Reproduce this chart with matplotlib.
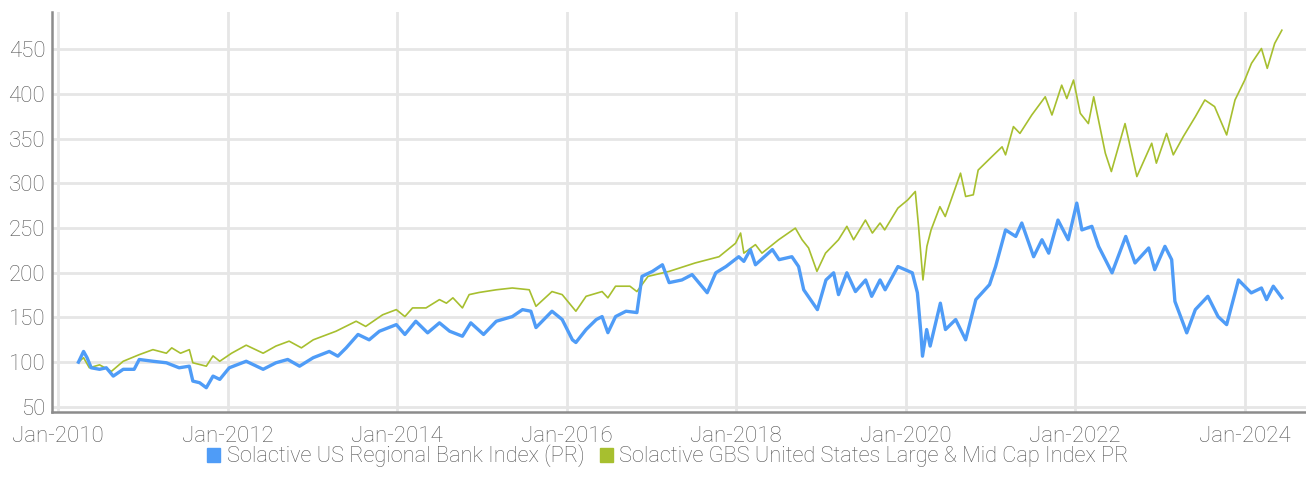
import pandas as pd
import matplotlib
matplotlib.use("Agg")
from matplotlib import pyplot as plt
from matplotlib.patches import Patch
import matplotlib.dates as mdates

plt.rcParams['font.family'] = ['Roboto', 'DejaVu Sans']
plt.rcParams['font.weight'] = 'light'

# Solactive US Regional Bank Index (PR)
bankDates = [
    "2010-03-29", "2010-04-20", "2010-05-05", "2010-05-23", "2010-06-28", "2010-07-27",
    "2010-08-26", "2010-10-08", "2010-11-24", "2010-12-16", "2011-02-13", "2011-04-12",
    "2011-06-06", "2011-07-20", "2011-08-04", "2011-09-02", "2011-10-01", "2011-10-30",
    "2011-11-28", "2012-01-08", "2012-03-21", "2012-06-02", "2012-07-27", "2012-09-16",
    "2012-11-06", "2013-01-04", "2013-03-14", "2013-04-20", "2013-05-26", "2013-07-16",
    "2013-09-02", "2013-10-16", "2013-12-28", "2014-02-03", "2014-03-22", "2014-05-12",
    "2014-07-02", "2014-08-15", "2014-10-09", "2014-11-14", "2015-01-08", "2015-03-04",
    "2015-05-12", "2015-06-25", "2015-07-31", "2015-08-22", "2015-10-30", "2015-12-13",
    "2016-01-26", "2016-02-10", "2016-03-25", "2016-05-08", "2016-06-02", "2016-06-27",
    "2016-07-30", "2016-09-13", "2016-10-30", "2016-11-21", "2017-01-05", "2017-02-17",
    "2017-03-18", "2017-05-12", "2017-06-25", "2017-08-29", "2017-10-05", "2017-11-18",
    "2018-01-12", "2018-02-03", "2018-03-03", "2018-03-25", "2018-06-06", "2018-07-05",
    "2018-08-29", "2018-09-27", "2018-10-19", "2018-12-17", "2019-01-23", "2019-02-25",
    "2019-03-18", "2019-04-23", "2019-05-30", "2019-07-13", "2019-08-08", "2019-09-13",
    "2019-10-05", "2019-11-29", "2020-01-30", "2020-02-21", "2020-03-07", "2020-03-14",
    "2020-04-01", "2020-04-16", "2020-05-30", "2020-06-21", "2020-08-04", "2020-09-16",
    "2020-10-30", "2020-12-28", "2021-01-23", "2021-03-07", "2021-04-20", "2021-05-16",
    "2021-07-06", "2021-08-11", "2021-09-09", "2021-10-19", "2021-12-02", "2022-01-08",
    "2022-01-30", "2022-03-14", "2022-04-12", "2022-05-11", "2022-06-09", "2022-08-07",
    "2022-09-16", "2022-11-14", "2022-12-10", "2023-01-23", "2023-02-21", "2023-03-07",
    "2023-04-27", "2023-06-03", "2023-07-27", "2023-09-09", "2023-10-16", "2023-12-06",
    "2024-01-30", "2024-03-14", "2024-04-05", "2024-05-04", "2024-06-10",
]
bankValues = [
    100, 112, 105, 93.7, 92, 93.7,
    84.4, 92, 92, 103, 101, 99.3,
    93.7, 95.5, 78.8, 77, 71.4, 84.4,
    80.7, 93.7, 101, 92, 99.3, 103,
    95.5, 105, 112, 106.7, 116, 131,
    125, 134.6, 142, 131, 145.8, 132.8,
    144, 134.6, 129, 144, 131, 145.8,
    151, 158.8, 157, 138.7, 157, 147.7,
    125, 122, 136.5, 147.7, 151, 133,
    151, 157, 155.5, 196, 201.6, 209,
    189, 192, 198, 177.7, 200, 207,
    218, 212.8, 226, 209, 226, 214.7,
    218, 207, 181, 158.8, 192, 200,
    175.6, 200, 179, 192, 173.7, 192,
    181, 207, 200, 177.7, 133, 106.7,
    136.5, 118, 166, 136.5, 147.7, 125,
    170, 186.8, 207, 248, 240.7, 255.7,
    218, 237, 222, 259, 237, 278,
    248, 252, 229.6, 214.7, 200, 240.7,
    211, 227.8, 203.5, 229.6, 214.7, 168,
    132.8, 158.8, 173.7, 151, 142, 192,
    177.5, 183, 170, 185, 172,
]

# Solactive GBS United States Large & Mid Cap Index PR
marketDates = [
    "2010-03-29", "2010-04-20", "2010-05-15", "2010-06-28", "2010-08-18", "2010-10-08",
    "2010-12-16", "2011-02-13", "2011-04-12", "2011-05-05", "2011-06-12", "2011-07-20",
    "2011-08-04", "2011-10-01", "2011-10-30", "2011-11-28", "2012-01-18", "2012-03-21",
    "2012-06-02", "2012-07-27", "2012-09-22", "2012-11-14", "2013-01-04", "2013-04-12",
    "2013-07-08", "2013-08-18", "2013-10-30", "2013-12-28", "2014-02-03", "2014-03-08",
    "2014-05-05", "2014-07-02", "2014-08-01", "2014-08-29", "2014-10-09", "2014-11-07",
    "2014-12-20", "2015-03-04", "2015-05-12", "2015-07-24", "2015-08-22", "2015-10-30",
    "2015-12-13", "2016-02-10", "2016-03-25", "2016-06-02", "2016-06-27", "2016-07-30",
    "2016-09-30", "2016-10-30", "2016-12-17", "2017-03-18", "2017-07-08", "2017-10-19",
    "2017-12-29", "2018-01-20", "2018-02-03", "2018-03-25", "2018-04-22", "2018-07-03",
    "2018-09-13", "2018-10-12", "2018-11-09", "2018-12-15", "2019-01-21", "2019-03-18",
    "2019-04-23", "2019-05-22", "2019-07-12", "2019-08-11", "2019-09-13", "2019-10-03",
    "2019-11-29", "2020-01-11", "2020-02-12", "2020-02-26", "2020-03-16", "2020-04-02",
    "2020-04-20", "2020-05-28", "2020-06-20", "2020-08-25", "2020-09-16", "2020-10-19",
    "2020-11-09", "2021-01-07", "2021-02-20", "2021-03-07", "2021-04-10", "2021-05-08",
    "2021-06-28", "2021-08-25", "2021-09-23", "2021-11-04", "2021-11-26", "2021-12-25",
    "2022-01-23", "2022-02-27", "2022-03-22", "2022-05-11", "2022-06-06", "2022-08-04",
    "2022-09-24", "2022-11-27", "2022-12-17", "2023-01-30", "2023-02-28", "2023-04-12",
    "2023-06-03", "2023-07-14", "2023-08-25", "2023-10-16", "2023-11-21", "2024-01-02",
    "2024-01-31", "2024-03-14", "2024-04-08", "2024-05-10", "2024-06-10",
]
marketValues = [
    100, 105, 93.7, 97, 89.7, 101,
    108.4, 114, 110, 116, 110, 114,
    99.3, 95.5, 107, 101, 110, 119,
    110, 118, 123.5, 116, 125, 134.6,
    145.8, 140, 153, 158.8, 151, 160.7,
    160.7, 170, 166, 172, 160.7, 175.6,
    178, 181, 183, 181, 162.5, 179,
    175.6, 157, 173.7, 179, 172, 185,
    185, 179, 196, 201.6, 211, 218,
    233, 244.5, 222, 231.5, 222, 237,
    250, 237, 227.8, 201.6, 222, 237,
    252, 237, 259, 244.5, 255.7, 248,
    272.4, 281.7, 291, 252, 192, 229.6,
    248, 274, 263, 311.5, 285.4, 287.3,
    315, 330, 341, 332, 363.6, 356,
    376.6, 397, 376.6, 410, 395, 415.7,
    378.5, 367, 397, 333.9, 313.3, 367,
    307.7, 345, 322.7, 356, 332, 352.4,
    374.7, 393.4, 386, 354.3, 393.4, 415.7,
    434.4, 451, 428.8, 456.7, 471.5,
]

yTicks = [50, 100, 150, 200, 250, 300, 350, 400, 450]
xTicks = ["2010-01-01", "2012-01-01", "2014-01-01", "2016-01-01",
          "2018-01-01", "2020-01-01", "2022-01-01", "2024-01-01"]

bankColor = '#4f9cf7'
marketColor = '#a7bf2f'
textColor = '#555555'
gridColor = '#e6e6e6'

fig = plt.figure(figsize=(13.06, 4.95), dpi=100)
axes = fig.add_axes([0.04, 0.168, 0.96, 0.808])

axes.plot(pd.to_datetime(marketDates), marketValues, color=marketColor, linewidth=1.2, zorder=3)
axes.plot(pd.to_datetime(bankDates), bankValues, color=bankColor, linewidth=2.4, zorder=4,
          solid_joinstyle='round')

axes.set_ylim(44.4, 492)
axes.set_xlim(pd.Timestamp("2009-12-06"), pd.Timestamp("2024-09-22"))
axes.set_yticks(yTicks)
axes.set_xticks(pd.to_datetime(xTicks))
axes.xaxis.set_major_formatter(mdates.DateFormatter('%b-%Y'))

axes.grid(True, color=gridColor, linewidth=2)
axes.set_axisbelow(True)
for side in ['top', 'right']:
    axes.spines[side].set_visible(False)
for side in ['left', 'bottom']:
    axes.spines[side].set_color('#8c8c8c')
    axes.spines[side].set_linewidth(1.8)
axes.tick_params(axis='both', length=0, labelsize=16, labelcolor=textColor)
axes.tick_params(axis='y', pad=5)
axes.tick_params(axis='x', pad=10)

handles = [Patch(color=bankColor), Patch(color=marketColor)]
labels = ['Solactive US Regional Bank Index (PR)',
          'Solactive GBS United States Large & Mid Cap Index PR']
fig.legend(handles, labels, loc='center', bbox_to_anchor=(668 / 1306, 1 - 456 / 495), ncol=2,
           frameon=False, fontsize=15.7, labelcolor=textColor, handlelength=0.6, handleheight=0.6,
           handletextpad=0.3, columnspacing=0.7)

fig.savefig("out.png", dpi=100)
